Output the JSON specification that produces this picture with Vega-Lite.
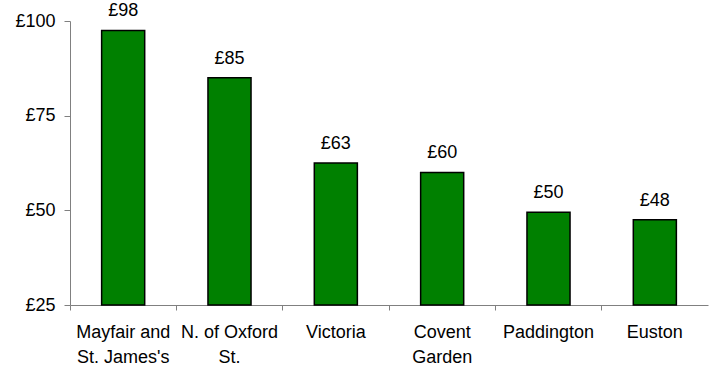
{
  "$schema": "https://vega.github.io/schema/vega-lite/v6.json",
  "autosize": "none",
  "width": 638,
  "height": 284,
  "padding": {"left": 70, "top": 21, "right": 7, "bottom": 60},
  "background": "white",
  "config": {
    "view": {"stroke": null},
    "font": "Liberation Sans",
    "locale": {"number": {"decimal": ".", "thousands": ",", "grouping": [3], "currency": ["£", ""]}}
  },
  "title": {
    "text": "West End Prime Rent per Sft",
    "font": "Liberation Sans",
    "fontSize": 20,
    "fontWeight": "bold",
    "anchor": "middle",
    "baseline": "alphabetic",
    "offset": 0,
    "dx": 32,
    "dy": 12,
    "color": "black"
  },
  "data": {
    "values": [
      {"district": "Mayfair and St. James's", "rent": 97.5},
      {"district": "N. of Oxford St.", "rent": 85},
      {"district": "Victoria", "rent": 62.5},
      {"district": "Covent Garden", "rent": 60},
      {"district": "Paddington", "rent": 49.5},
      {"district": "Euston", "rent": 47.5}
    ]
  },
  "encoding": {
    "x": {
      "field": "district",
      "type": "nominal",
      "sort": null,
      "scale": {"paddingInner": 0, "paddingOuter": 0},
      "axis": {
        "title": null,
        "bandPosition": 0,
        "labelAngle": 0,
        "labelFontSize": 18,
        "labelColor": "black",
        "labelPadding": 13,
        "labelLineHeight": 25,
        "labelBaseline": "top",
        "labelAlign": "center",
        "domainColor": "#808080",
        "tickColor": "#808080",
        "tickSize": 5,
        "labelExpr": "datum.label == 'Mayfair and St. James\\'s' ? ['Mayfair and', 'St. James\\'s'] : datum.label == 'N. of Oxford St.' ? ['N. of Oxford', 'St.'] : datum.label == 'Covent Garden' ? ['Covent', 'Garden'] : datum.label"
      }
    },
    "y": {
      "field": "rent",
      "type": "quantitative",
      "scale": {"domain": [25, 100], "zero": false, "nice": false},
      "axis": {
        "title": null,
        "values": [25, 50, 75, 100],
        "format": "$,.0f",
        "grid": false,
        "labelFontSize": 18,
        "labelColor": "black",
        "labelPadding": 9,
        "domainColor": "#808080",
        "tickColor": "#808080",
        "tickSize": 6
      }
    }
  },
  "layer": [
    {
      "mark": {"type": "bar", "color": "#008000", "stroke": "black", "strokeWidth": 1.5, "width": {"band": 0.405}},
      "encoding": {"y2": {"datum": 25}}
    },
    {
      "mark": {"type": "text", "dy": -19, "fontSize": 18, "color": "black"},
      "encoding": {
        "text": {"field": "rent", "type": "quantitative", "format": "$,.0f"}
      }
    }
  ]
}
